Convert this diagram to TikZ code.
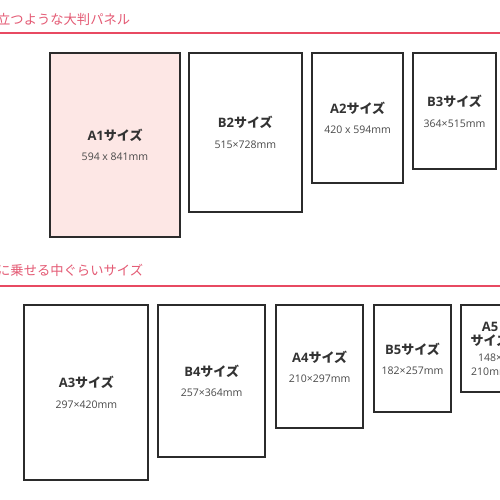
\documentclass[tikz,border=0pt]{standalone}
\usepackage{fontspec}
\usepackage[dvipsnames]{xcolor}
\newfontfamily\jp{Noto Sans CJK JP}
\newfontfamily\lat{Open Sans}
\definecolor{headpink}{HTML}{E45A74}
\definecolor{rulepink}{HTML}{E84A62}
\definecolor{panelline}{HTML}{2B2B2B}
\definecolor{textgray}{HTML}{333333}
\definecolor{dimgray}{HTML}{4A4A4A}
\definecolor{pinkfill}{HTML}{FDE7E5}
\newcommand{\ptitle}[2]{{\color{textgray}\fontsize{13}{20}\selectfont{\lat\bfseries #1}{\jp\bfseries #2}}}
\newcommand{\psize}[1]{{\lat\color{dimgray}#1}}

\begin{document}
\begin{tikzpicture}[x=1pt,y=-1pt,
    heading/.style={anchor=west,inner sep=0pt,text=headpink,font=\jp\fontsize{13.3}{15}\selectfont},
    rule/.style={draw=rulepink,line width=2pt},
    panel/.style={draw=panelline,line width=2pt,rectangle,inner sep=0pt,align=center,font=\jp\fontsize{10.5}{20.5}\selectfont}]

            \useasboundingbox[fill=white] (0,0) rectangle (500,500);

            % heading rows
            \node[heading] (head1) at (-3,19) {立つような大判パネル};
            \coordinate (r1a) at (0,33.5);
            \coordinate (r1b) at (500,33.5);
            \draw[rule] (r1a) -- (r1b);

            \node[heading] (head2) at (-3,270) {に乗せる中ぐらいサイズ};
            \coordinate (r2a) at (0,285.5);
            \coordinate (r2b) at (500,285.5);
            \draw[rule] (r2a) -- (r2b);

            % large panels
            \node[panel, fill=pinkfill, minimum width=130pt, minimum height=184pt] (a1) at (115,144.7) {\ptitle{A1}{サイズ}\\\psize{594 x 841mm}};
            \node[panel, minimum width=112.7pt, minimum height=158.4pt] (b2) at (245.3,132.5) {\ptitle{B2}{サイズ}\\\psize{515×728mm}};
            \node[panel, minimum width=91.3pt, minimum height=129.4pt] (a2) at (357.7,118) {\ptitle{A2}{サイズ}\\\psize{420 x 594mm}};
            \node[panel, minimum width=82.4pt, minimum height=116pt] (b3) at (454.5,111.3) {\ptitle{B3}{サイズ}\\\psize{364×515mm}};

            % medium panels
            \node[panel, minimum width=124pt, minimum height=175pt] (a3) at (86.3,392.5) {\ptitle{A3}{サイズ}\\\psize{297×420mm}};
            \node[panel, minimum width=106.7pt, minimum height=151.7pt] (b4) at (211.7,380.8) {\ptitle{B4}{サイズ}\\\psize{257×364mm}};
            \node[panel, minimum width=87.3pt, minimum height=123.3pt] (a4) at (319.7,366.7) {\ptitle{A4}{サイズ}\\\psize{210×297mm}};
            \node[panel, minimum width=76.4pt, minimum height=107.3pt] (b5) at (412.5,358.7) {\ptitle{B5}{サイズ}\\\psize{182×257mm}};
            \node[panel, minimum width=58.6pt, minimum height=87.3pt, font=\jp\fontsize{10.5}{13.5}\selectfont] (a5) at (490,348.7) {\ptitle{A5}{}\\[1pt]\ptitle{}{サイズ}\\[2.5pt]\psize{148×}\\\psize{210mm}};

        \end{tikzpicture}
\end{document}
